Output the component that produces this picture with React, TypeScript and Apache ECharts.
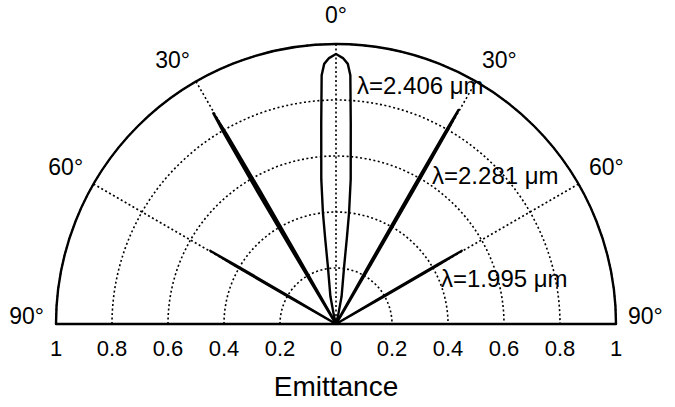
import React, { useEffect, useRef } from "react";
import * as echarts from "echarts";

// Angles in degrees (0 = normal, negative = left side), emittance values
const angles2406 = [-90, -20, -14, -11.5, -8, -7.2, -6.7, -5.8, -4.2, -3.3, -2.6, -1.5, 0, 1.5, 2.6, 3.3, 4.2, 5.8, 6.7, 7.2, 8, 11.5, 14, 20, 90];
const emit2406 = [0, 0, 0.03, 0.1, 0.21, 0.31, 0.4, 0.52, 0.72, 0.89, 0.93, 0.95, 0.964, 0.95, 0.93, 0.89, 0.72, 0.52, 0.4, 0.31, 0.21, 0.1, 0.03, 0, 0];

const angles2281 = [-90, -31.3, -30.9, -30.7, -30.45, -30.2, -29.95, -29.7, -29.5, -29.1, 28.9, 29.3, 29.5, 29.65, 29.8, 29.95, 30.1, 30.3, 30.7, 90];
const emit2281 = [0, 0, 0.25, 0.55, 0.78, 0.87, 0.78, 0.55, 0.25, 0, 0, 0.25, 0.55, 0.8, 0.88, 0.8, 0.55, 0.25, 0, 0];

const angles1995 = [-90, -60.6, -60.3, -60.05, -59.8, -59.55, -59.3, -59.0, 59.0, 59.3, 59.55, 59.8, 60.05, 60.3, 60.6, 90];
const emit1995 = [0, 0, 0.2, 0.42, 0.52, 0.42, 0.2, 0, 0, 0.2, 0.42, 0.52, 0.42, 0.2, 0, 0];

const seriesLabels = ["λ=2.406 μm", "λ=2.281 μm", "λ=1.995 μm"];
const angleTicks = [-90, -60, -30, 0, 30, 60, 90];
const radialTicks = [0, 0.2, 0.4, 0.6, 0.8, 1];

const FONT = "'Liberation Sans', Arial, Helvetica, sans-serif";

function toPolar(angles: number[], values: number[]) {
  return angles.map((a, i) => [values[i], a]);
}

export default function App() {
  const ref = useRef<HTMLDivElement>(null);
  useEffect(() => {
    if (!ref.current) return;
    const chart = echarts.init(ref.current, null, { renderer: "svg" });
    const line = (name: string, data: number[][], width: number) => ({
      name,
      type: "line",
      coordinateSystem: "polar",
      data,
      symbol: "none",
      smooth: false,
      lineStyle: { color: "#000", width, join: "round", cap: "round" },
      z: 4,
    });
    const dotted = { color: "#000", type: [2, 2.5], width: 1.6 };
    chart.setOption({
      animation: false,
      backgroundColor: "#fff",
      textStyle: { fontFamily: FONT, color: "#000" },
      polar: { center: [336, 324], radius: 280 },
      angleAxis: {
        type: "value",
        min: angleTicks[0],
        max: angleTicks[angleTicks.length - 1],
        interval: 30,
        startAngle: 180,
        endAngle: 0,
        clockwise: true,
        z: 3,
        axisLine: { show: true, lineStyle: { color: "#000", width: 2.4 } },
        axisTick: { show: false },
        splitLine: { show: true, lineStyle: dotted },
        axisLabel: {
          color: "#000",
          fontSize: 23,
          fontFamily: FONT,
          margin: 12,
          formatter: (v: number) => {
            const t = Math.abs(v) + "°";
            if (v === 0) return "{top|" + t + "}";
            if (Math.abs(v) === 90) return "{side|" + t + "}";
            return t;
          },
          rich: {
            top: { fontSize: 23, fontFamily: FONT, color: "#000", padding: [0, 0, 6, 0] },
            side: { fontSize: 23, fontFamily: FONT, color: "#000", padding: [0, 0, 16, 0] },
          },
        },
      },
      radiusAxis: {
        type: "value",
        min: radialTicks[0],
        max: radialTicks[radialTicks.length - 1],
        interval: 0.2,
        axisLine: { show: false },
        axisTick: { show: false },
        axisLabel: { show: false },
        splitLine: { show: true, lineStyle: dotted },
      },
      grid: { left: 56, width: 560, top: 0, height: 324 },
      xAxis: {
        type: "value",
        min: -1,
        max: 1,
        interval: 0.2,
        z: 5,
        axisLine: { show: true, lineStyle: { color: "#000", width: 2.4 } },
        axisTick: { show: false },
        splitLine: { show: false },
        axisLabel: {
          color: "#000",
          fontSize: 22,
          fontFamily: FONT,
          margin: 13,
          formatter: (v: number) => String(Math.abs(Math.round(v * 10) / 10)),
        },
        name: "Emittance",
        nameLocation: "middle",
        nameGap: 48,
        nameTextStyle: { color: "#000", fontSize: 28, fontFamily: FONT },
      },
      yAxis: { type: "value", min: 0, max: 1, show: false },
      series: [
        line(seriesLabels[0], toPolar(angles2406, emit2406), 2.4),
        line(seriesLabels[1], toPolar(angles2281, emit2281), 2.6),
        line(seriesLabels[2], toPolar(angles1995, emit1995), 2.2),
      ],
      graphic: [
        { type: "text", x: 357, y: 85, z: 10, style: { text: seriesLabels[0], fontSize: 24, fontFamily: FONT, fill: "#000", align: "left", verticalAlign: "middle" } },
        { type: "text", x: 432, y: 175, z: 10, style: { text: seriesLabels[1], fontSize: 24, fontFamily: FONT, fill: "#000", align: "left", verticalAlign: "middle" } },
        { type: "text", x: 441, y: 278, z: 10, style: { text: seriesLabels[2], fontSize: 24, fontFamily: FONT, fill: "#000", align: "left", verticalAlign: "middle" } },
      ],
    });
    return () => chart.dispose();
  }, []);
  return (
    <div
      ref={ref}
      style={{ position: "fixed", left: 0, top: 0, width: 675, height: 407, background: "#fff" }}
    />
  );
}
